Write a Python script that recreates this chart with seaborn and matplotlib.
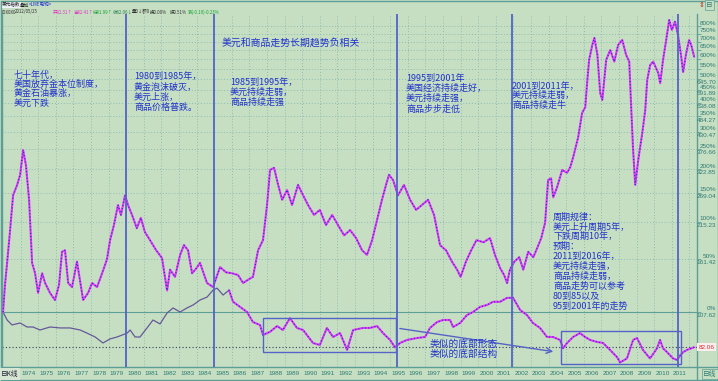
import numpy as np
import pandas as pd
import matplotlib
matplotlib.use("Agg")
import matplotlib.pyplot as plt
import matplotlib.transforms as mtransforms
from matplotlib.patches import Rectangle
from matplotlib.lines import Line2D
from matplotlib.ticker import NullLocator
import seaborn as sns

# ---- data (log axis, 107.62 = 0%) ----
cmd_years = [1973.0, 1973.11, 1973.23, 1973.4, 1973.57, 1973.8, 1973.97, 1974.14, 1974.3, 1974.48,
             1974.65, 1974.82, 1974.99, 1975.22, 1975.39, 1975.67, 1975.95, 1976.18, 1976.35, 1976.52,
             1976.7, 1976.92, 1977.2, 1977.55, 1977.83, 1978.06, 1978.34, 1978.63, 1978.9, 1979.08,
             1979.3, 1979.53, 1979.7, 1979.93, 1980.1, 1980.33, 1980.6, 1980.83, 1981.06, 1981.35,
             1981.7, 1982.03, 1982.32, 1982.49, 1982.77, 1983.06, 1983.28, 1983.51, 1983.74, 1984.0,
             1984.19, 1984.59, 1984.93, 1985.33, 1985.67, 1986.0, 1986.35, 1986.64, 1986.93, 1987.2,
             1987.49, 1987.77, 1988.0, 1988.17, 1988.4, 1988.63, 1988.86, 1989.14, 1989.42, 1989.76,
             1990.05, 1990.33, 1990.67, 1991.0, 1991.35, 1991.7, 1992.03, 1992.38, 1992.72, 1993.06,
             1993.4, 1993.68, 1993.97, 1994.25, 1994.53, 1994.76, 1994.93, 1995.16, 1995.44, 1995.78,
             1996.13, 1996.47, 1996.8, 1997.15, 1997.49, 1997.83, 1998.17, 1998.51, 1998.8, 1999.0,
             1999.3, 1999.6, 1999.9, 2000.3, 2000.67, 2000.95, 2001.24, 2001.47, 2001.64, 2001.8,
             2002.05, 2002.33, 2002.56, 2002.84, 2003.13, 2003.35, 2003.58, 2003.8, 2003.97, 2004.14,
             2004.26, 2004.48, 2004.77, 2005.05, 2005.23, 2005.4, 2005.68, 2005.9, 2006.08, 2006.2,
             2006.3, 2006.48, 2006.6, 2006.77, 2006.93, 2007.05, 2007.27, 2007.5, 2007.73, 2007.95,
             2008.18, 2008.4, 2008.58, 2008.69, 2008.8, 2008.92, 2009.09, 2009.32, 2009.49, 2009.6,
             2009.77, 2009.94, 2010.23, 2010.34, 2010.5, 2010.68, 2010.85, 2011.0, 2011.18, 2011.35,
             2011.52, 2011.64, 2011.8, 2011.98, 2012.1, 2012.27]
cmd_vals = [107.6, 132.5, 157, 202, 264, 286, 309, 374, 333, 255,
            157, 145, 124.6, 145, 134.5, 124.6, 118, 132.5, 171, 173,
            134.5, 130.4, 158.5, 118, 124.6, 134.5, 130.4, 145, 161, 187,
            210, 245, 227, 264, 245, 227, 205, 222, 199, 187,
            173, 163, 127, 149, 141, 167, 180, 173, 145, 151,
            157, 134.5, 130.4, 152, 146, 145, 143, 134.5, 138, 141,
            173, 187, 245, 321, 326, 286, 255, 275, 245, 286,
            264, 245, 227, 236, 210, 227, 210, 194, 202, 190,
            173, 167, 187, 218, 255, 286, 309, 297, 264, 286,
            255, 236, 245, 255, 227, 180, 173, 158.5, 149, 141,
            158.5, 173, 187, 184, 190, 167, 151, 143, 134.5, 149,
            158.5, 164, 149, 171, 164, 176, 190, 214, 297, 301,
            260, 281, 321, 314, 328, 355, 413, 497, 520, 641,
            748, 839, 886, 778, 580, 550, 748, 807, 738, 839,
            872, 778, 738, 520, 374, 286, 346, 426, 509, 641,
            719, 738, 676, 625, 748, 872, 1017, 942, 1003, 906,
            778, 681, 778, 872, 839, 766]

usd_years = [1973.0, 1973.23, 1973.51, 1973.97, 1974.36, 1974.7, 1975.1, 1975.67, 1976.24, 1976.81,
             1977.38, 1977.77, 1978.23, 1978.68, 1979.08, 1979.48, 1980.05, 1980.22, 1980.5, 1980.78,
             1981.18, 1981.52, 1981.92, 1982.32, 1982.66, 1983.06, 1983.45, 1983.8, 1984.19, 1984.59,
             1984.93, 1985.16, 1985.5, 1985.84, 1986.07, 1986.47, 1986.86, 1987.2, 1987.6, 1987.77,
             1988.17, 1988.57, 1988.9, 1989.3, 1989.7, 1990.05, 1990.61, 1991.0, 1991.4, 1991.75,
             1992.15, 1992.55, 1992.89, 1993.45, 1993.85, 1994.25, 1994.59, 1994.99, 1995.27, 1995.56,
             1995.95, 1996.52, 1996.98, 1997.26, 1997.66, 1998.0, 1998.4, 1998.57, 1998.97, 1999.36,
             1999.7, 2000.1, 2000.5, 2000.84, 2001.24, 2001.64, 2001.98, 2002.38, 2002.77, 2003.11,
             2003.51, 2003.91, 2004.25, 2004.65, 2004.82, 2005.05, 2005.39, 2005.78, 2006.07, 2006.36,
             2006.75, 2007.09, 2007.49, 2007.89, 2008.06, 2008.45, 2008.8, 2009.02, 2009.36, 2009.76,
             2010.16, 2010.33, 2010.5, 2010.73, 2011.07, 2011.3, 2011.47, 2011.64, 2011.86, 2012.27]
usd_vals = [107.6, 101.2, 97.4, 98.9, 95.9, 95.9, 93.7, 95.9, 95.2, 95.2,
            93.7, 91.5, 88.8, 84.8, 87.5, 88.8, 91.5, 93.7, 88.8, 88.8,
            95.2, 101.2, 98.2, 106.8, 111, 107.6, 111, 113.6, 118, 120.7,
            127.3, 129.3, 122.6, 127.3, 116.4, 111.9, 107.6, 99.6, 97.4, 90.2,
            92.4, 96.6, 93.7, 102.7, 95.2, 93.7, 84.8, 83.5, 95.2, 88.8,
            91.5, 80.4, 93.7, 95.2, 95.2, 96.6, 91.5, 86.8, 82.0, 84.8,
            86.8, 88.1, 88.8, 95.2, 99.6, 101.2, 101.2, 95.9, 98.9, 105.1,
            107.6, 111.9, 113.6, 116.4, 116.4, 120, 120, 109.3, 105.1, 98.9,
            95.2, 88.8, 88.8, 86.8, 81.4, 84.8, 88.8, 91.5, 88.8, 86.8,
            85.5, 84.8, 80.4, 76, 73, 75.3, 86.8, 88.1, 80.4, 75.3,
            81.4, 86.8, 81.4, 79, 75.3, 74.4, 77, 79, 80.4, 82.06]
usd_kline_from = 1985.84

base_value = 107.62
pct_labels = list(range(0, 801, 50))
num_labels = [107.62, 161.42, 215.23, 269.04, 322.85, 376.66, 430.47, 484.27, 538.08, 591.89, 645.70]
year_labels = list(range(1974, 2012))
last_close = 82.06

# ---- look ----
BG = "#c6dfc2"
TEAL = "#5e9e98"
GRID = "#8dbcb2"
BLUE_LINE = "#5563c6"
TXT_BLUE = "#2232cc"
MAG = "#e03cf0"
KBLUE = "#2626dc"

sns.set_style("white")
plt.rcParams['font.family'] = ['Noto Sans CJK SC', 'DejaVu Sans']
plt.rcParams['axes.unicode_minus'] = False

W, H = 718, 381
fig = plt.figure(figsize=(W / 100, H / 100), dpi=100)
fig.patch.set_facecolor(BG)


def fx(x):
    return x / W


def fy(y):
    return 1 - y / H


ax = fig.add_axes([fx(2), fy(367), fx(697) - fx(2), fy(14) - fy(367)])
ax.set_facecolor(BG)
ax.set_yscale('log')
ax.set_xlim(1972.94, 2012.43)
ax.set_ylim(70.5, 1064.6)

# grid
pct_vals = [base_value * (1 + p / 100) for p in pct_labels]
for yr in year_labels + [2012]:
    ax.axvline(yr, color=GRID, lw=0.7, ls=(0, (1, 2)), zorder=0)
for v in pct_vals[1:]:
    ax.axhline(v, color=GRID, lw=0.7, ls=(0, (1, 2)), zorder=0)
ax.axhline(base_value, color=TEAL, lw=0.8, zorder=0)
ax.axhline(last_close, color="#3c3c5a", lw=0.8, ls=(0, (1, 2)), zorder=1)

# series
cmd = pd.DataFrame({"year": cmd_years, "value": cmd_vals})
usd = pd.DataFrame({"year": usd_years, "value": usd_vals})
usd_old = usd[usd.year <= usd_kline_from]
usd_new = usd[usd.year >= usd_kline_from]

sns.lineplot(data=usd_old, x="year", y="value", ax=ax, color="#65589a", lw=0.9, zorder=3)
for d in [usd_new, cmd]:
    sns.lineplot(data=d, x="year", y="value", ax=ax, color=MAG, lw=1.5, zorder=3)
    sns.lineplot(data=d, x="year", y="value", ax=ax, color=KBLUE, lw=0.9,
                 ls=(0, (0.8, 1.8)), zorder=4)
ax.set_xlabel("")
ax.set_ylabel("")

# annotations: separator lines, boxes, arrow
for yr in [1980.0, 1985.0, 1995.39, 2001.92, 2011.35]:
    ax.axvline(yr, color=BLUE_LINE, lw=1.3, zorder=5)
ax.add_patch(Rectangle((1987.77, 79.1), 1995.33 - 1987.77, 102.8 - 79.1,
                       fill=False, ec=BLUE_LINE, lw=1.0, zorder=5))
ax.add_patch(Rectangle((2004.7, 72.1), 2011.52 - 2004.7, 93.0 - 72.1,
                       fill=False, ec=BLUE_LINE, lw=1.0, zorder=5))
ax.annotate("", xy=(2004.42, 79.1), xytext=(1995.39, 95.1),
            arrowprops=dict(arrowstyle="->", color=BLUE_LINE, lw=1.0), zorder=5)

# axes cosmetics
for s in ["left", "right", "bottom"]:
    ax.spines[s].set_color(TEAL)
    ax.spines[s].set_linewidth(1.0)
ax.spines["top"].set_visible(False)
ax.set_xticks(year_labels + [2012])
ax.tick_params(axis="x", direction="out", length=8, width=0.6, color=TEAL,
               labelbottom=False)
ax.yaxis.set_minor_locator(NullLocator())
ax.set_yticks(pct_vals)
ax.yaxis.tick_right()
ax.tick_params(axis="y", direction="out", length=3, width=0.6, color=TEAL,
               labelright=False, labelleft=False)

small = dict(family="Liberation Sans", fontsize=4.6, color="#2f7a74")
for p, v in zip(pct_labels, pct_vals):
    ax.annotate(f"{p}%", xy=(1, v), xycoords=("axes fraction", "data"),
                xytext=(13.7, 2.2), textcoords="offset points",
                ha="right", va="center", **small)
for v in num_labels:
    ax.annotate(f"{v:.2f}", xy=(1, v), xycoords=("axes fraction", "data"),
                xytext=(13.7, -2.6), textcoords="offset points",
                ha="right", va="center", **small)
ax.annotate(f"{last_close:.2f}", xy=(1, last_close), xycoords=("axes fraction", "data"),
            xytext=(7, 0), textcoords="offset points", ha="center", va="center",
            family="Liberation Sans", fontsize=4.6, color="#e02828",
            bbox=dict(boxstyle="square,pad=0.25", fc="#fbeeee", ec="none"))

# year labels along the bottom
xfig = mtransforms.blended_transform_factory(ax.transData, fig.transFigure)
for yr in year_labels:
    ax.text(yr + 0.06, fy(373.5), str(yr), transform=xfig, ha="left", va="center",
            clip_on=False, **small)

# frame around the whole picture
frame = [((0.5, 0.5), (0.5, 380.5)), ((717.5, 717.5), (0.5, 380.5)),
         ((0.5, 717.5), (0.5, 0.5)), ((0.5, 717.5), (379.5, 379.5)),
         ((697, 697), (367, 380)), ((697, 717), (367, 367))]
for xs, ys in frame:
    fig.add_artist(Line2D([fx(x) for x in xs], [fy(y) for y in ys], color=TEAL, lw=1.0))

fig.text(fx(1), fy(374), "日K线", fontsize=4.8, color="#223", va="center", ha="left",
         bbox=dict(boxstyle="square,pad=0.25", fc="#d6e6d2", ec="none"))
fig.text(fx(703), fy(374), "日线", fontsize=4.8, color="#2f7a74", va="center", ha="left",
         bbox=dict(boxstyle="square,pad=0.2", fc=BG, ec=TEAL, lw=0.5))
fig.text(fx(699), fy(5), "⇕", fontsize=5, color="#c02020", va="center", ha="left")
fig.text(fx(706), fy(5), "日", fontsize=4.8, color="#2f7a74", va="center", ha="left",
         bbox=dict(boxstyle="square,pad=0.15", fc=BG, ec=TEAL, lw=0.5))

# header rows (tiny status-bar text)
fig.text(fx(2), fy(5), "美元指数", fontsize=3.3, color="#202020", va="center",
         bbox=dict(boxstyle="square,pad=0.1", fc="#eef2f8", ec="none"))
fig.text(fx(20), fy(5), "叠加", fontsize=3.3, color="#202020", va="center")
fig.text(fx(29), fy(5), "<LME电铜>", fontsize=3.3, color="#2030d0", va="center")
row2 = [(2, "IDX0X0", "#303030"), (15, "2012/05/25", "#303030"),
        (53, "开82.31↑", "#e030c0"), (74, "高82.41↑", "#e030c0"),
        (93, "低81.99↑", "#10a030"), (113, "收82.06↓", "#208050"),
        (132, "量0↓额0", "#303030"),
        (150, "换0.00%", "#303030"), (170, "振0.51%", "#303030"),
        (188, "涨(-0.19)-0.23%", "#10a030")]
for x, s, c in row2:
    fig.text(fx(x), fy(12), s, fontsize=3.2, color=c, va="center", ha="left")

# chart notes
note = dict(fontsize=6.5, color=TXT_BLUE, va="center", ha="left")


def block(x, y0, step, lines, **kw):
    for i, s in enumerate(lines):
        fig.text(fx(x), fy(y0 + i * step), s, **{**note, **kw})


fig.text(fx(291), fy(43), "美元和商品走势长期趋势负相关", fontsize=7.1, color=TXT_BLUE,
         ha="center", va="center")
block(14, 75, 9.3, ["七十年代，", "美国放弃金本位制度，", "黄金石油暴涨，", "美元下跌"])
block(134, 77, 10.2, ["1980到1985年，", "黄金泡沫破灭，", "美元上涨，", "商品价格普跌。"])
block(230, 82, 10, ["1985到1995年，", "美元持续走弱，", "商品持续走强"])
block(406, 78, 10.3, ["1995到2001年", "美国经济持续走好，", "美元持续走强，", "商品步步走低"])
block(512, 86, 9.6, ["2001到2011年，", "美元持续走弱，", "商品持续走牛"])
block(553, 217, 9.9, ["周期规律：", "美元上升周期5年，", "下跌周期10年，", "预期：",
                      "2011到2016年，", "美元持续走强，", "商品持续走弱，",
                      "商品走势可以参考", "80到85以及", "95到2001年的走势"])
block(430, 344, 10, ["类似的底部形态", "类似的底部结构"], fontsize=7)

fig.savefig("out.png", dpi=100, facecolor=BG)
